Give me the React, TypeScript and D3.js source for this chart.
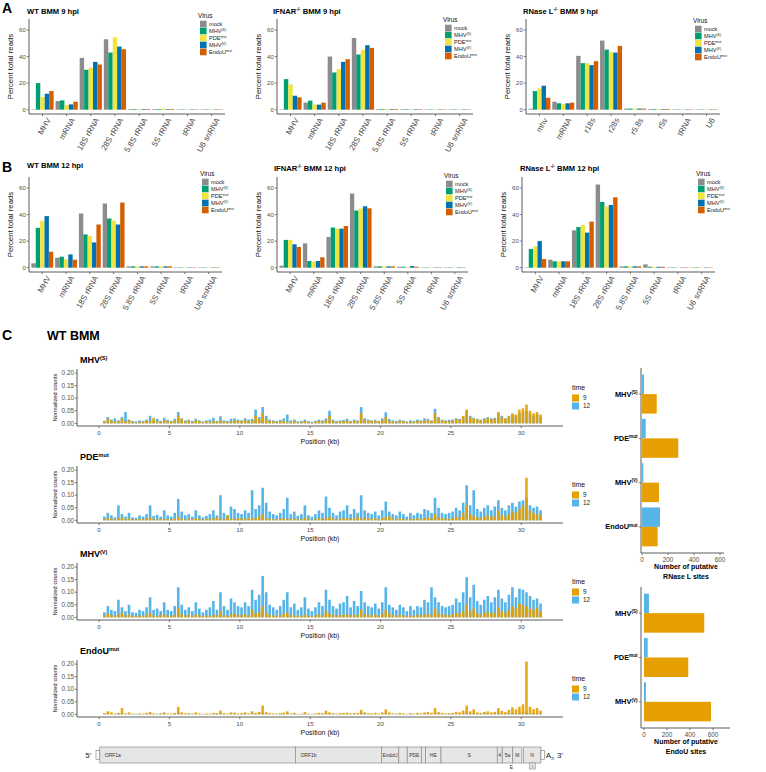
import React from 'react';
import * as d3 from 'd3';

const FONT = "'Liberation Sans', Arial, Helvetica, sans-serif";
const TICK_INK = '#4d4d4d';
const AXIS = '#333333';

// ---------------- Panels A & B : percent of total reads ----------------
const virusLabels: [string, string][] = [['mock', ''], ['MHV', '(S)'], ['PDE', 'mut'], ['MHV', '(V)'], ['EndoU', 'mut']];
const virusColors = ['#8c8c8c', '#009E73', '#F0E442', '#0072B2', '#D55E00'];
const rnaCategories = ['MHV', 'mRNA', '18S rRNA', '28S rRNA', '5.8S rRNA', '5S rRNA', 'tRNA', 'U6 snRNA'];
const rnaCategoriesRnaseL9 = ['mhv', 'mRNA', 'r18s', 'r28s', 'r5.8s', 'r5s', 'tRNA', 'U6'];
const percentTicks = [0, 20, 40, 60];

// rows: mock, MHV(S), PDEmut, MHV(V), EndoUmut ; columns follow the categories
const wt9hpi = [
  [0.3, 6.5, 39, 53, 0.5, 0.5, 0.1, 0.1],
  [20, 7, 30, 43, 0.5, 0.5, 0.1, 0.1],
  [9.5, 3.5, 31.5, 54.5, 0.5, 1.0, 0.1, 0.1],
  [12, 4, 36, 47.5, 0.5, 0.5, 0.1, 0.1],
  [14, 6, 34, 45.5, 0.5, 0.5, 0.1, 0.1],
];
const ifnar9hpi = [
  [0.2, 5.3, 40, 54, 0.5, 0.4, 0.1, 0.1],
  [23, 6.8, 28, 41.5, 0.5, 0.4, 0.1, 0.1],
  [19, 4, 30.5, 45, 0.5, 0.4, 0.1, 0.1],
  [10.5, 3.8, 36, 48.5, 0.5, 0.4, 0.1, 0.1],
  [9.3, 5.3, 38, 46.5, 0.5, 0.4, 0.1, 0.1],
];
const rnasel9hpi = [
  [0.7, 6, 40.5, 52, 0.8, 0.5, 0.1, 0.1],
  [14, 4.8, 35, 45.2, 0.8, 0.5, 0.1, 0.1],
  [16, 4.3, 35, 43.2, 0.8, 0.5, 0.1, 0.1],
  [18, 4.8, 33.5, 43, 0.8, 0.5, 0.1, 0.1],
  [9, 5.3, 36.5, 48, 0.8, 0.5, 0.1, 0.1],
];
const wt12hpi = [
  [3.3, 7.5, 40.8, 48.3, 1, 1, 0.2, 0.2],
  [30, 8.3, 25, 37, 1, 1, 0.2, 0.2],
  [35.3, 6.3, 23.8, 35.5, 1, 1, 0.2, 0.2],
  [38.8, 10, 19, 32.5, 1, 1, 0.2, 0.2],
  [12, 6, 32.5, 49, 1, 1, 0.2, 0.2],
];
const ifnar12hpi = [
  [1.5, 18.3, 23.1, 55.8, 1, 0.7, 0.2, 0.1],
  [20.9, 5, 30.2, 43, 1, 0.7, 0.2, 0.1],
  [20.9, 4.5, 29.4, 44.5, 1, 0.7, 0.2, 0.1],
  [17.6, 5, 29.4, 46.2, 1, 1.2, 0.2, 0.1],
  [15.6, 7.8, 31.4, 44.7, 1, 0.7, 0.2, 0.1],
];
const rnasel12hpi = [
  [0.3, 6, 28.1, 62.6, 1, 2.5, 0.2, 0.1],
  [14, 4.8, 30.6, 49.5, 1, 0.7, 0.2, 0.1],
  [16, 4.8, 32.1, 46, 1, 0.7, 0.2, 0.1],
  [20, 4.8, 26.4, 47.2, 1, 0.7, 0.2, 0.1],
  [6.5, 4.8, 34.7, 53, 1, 0.7, 0.2, 0.1],
];

// ---------------- Panel C : coverage tracks (normalized counts x 1000) ----------------
const binWidthKb = 0.25;
const binStartKb = d3.range(0, 31.5, binWidthKb);
const trackTitles: [string, string][] = [['MHV', '(S)'], ['PDE', 'mut'], ['MHV', '(V)'], ['EndoU', 'mut']];
const kbTicks = [0, 5, 10, 15, 20, 25, 30];
const countTicks = [0, 50, 100, 150, 200];
const timeLevels = ['9', '12'];
const timeColors = ['#E69F00', '#56B4E9'];

const mhvS_9 = [0, 8, 20, 12, 6, 10, 18, 8, 14, 6, 5, 4, 8, 12, 10, 22, 8, 6, 14, 9, 7, 12, 30, 18, 8, 10, 6, 12, 9, 5, 8, 6, 10, 7, 12, 9, 5, 8, 14, 10, 9, 14, 8, 12, 30, 18, 40, 20, 10, 8, 6, 9, 12, 5, 8, 10, 4, 6, 9, 5, 3, 6, 10, 8, 12, 30, 10, 6, 8, 9, 12, 7, 10, 8, 40, 14, 12, 9, 10, 8, 14, 25, 10, 8, 6, 10, 9, 5, 8, 6, 10, 8, 12, 14, 9, 40, 20, 12, 10, 8, 12, 18, 14, 30, 55, 25, 20, 15, 12, 18, 22, 15, 20, 45, 25, 18, 30, 40, 35, 55, 60, 75, 50, 40, 45, 35];
const mhvS_12 = [0, 10, 25, 15, 20, 12, 25, 45, 15, 10, 8, 12, 10, 15, 30, 12, 18, 10, 22, 14, 10, 18, 45, 20, 12, 15, 10, 18, 12, 8, 12, 15, 22, 10, 28, 12, 10, 18, 20, 15, 12, 20, 15, 18, 55, 25, 65, 30, 15, 12, 10, 14, 20, 35, 12, 15, 8, 10, 15, 9, 6, 10, 15, 12, 20, 50, 15, 10, 12, 14, 18, 10, 15, 12, 65, 20, 15, 12, 14, 10, 20, 44, 18, 12, 10, 15, 12, 8, 12, 10, 15, 12, 20, 18, 12, 58, 25, 15, 12, 14, 15, 20, 18, 25, 50, 30, 22, 18, 15, 20, 25, 20, 22, 40, 30, 20, 28, 35, 30, 40, 45, 50, 38, 30, 35, 25];
const pde_9 = [0, 5, 10, 6, 4, 8, 12, 5, 8, 4, 4, 6, 5, 8, 12, 6, 4, 7, 5, 6, 5, 8, 15, 6, 4, 7, 5, 9, 6, 4, 6, 5, 8, 12, 6, 5, 20, 7, 6, 9, 8, 6, 12, 7, 10, 15, 25, 9, 6, 5, 4, 7, 9, 5, 6, 8, 4, 5, 12, 6, 3, 5, 8, 6, 9, 14, 7, 5, 6, 8, 9, 6, 8, 15, 7, 10, 9, 6, 8, 5, 10, 12, 18, 7, 5, 8, 6, 4, 7, 5, 8, 6, 10, 12, 8, 25, 14, 9, 7, 6, 10, 14, 12, 30, 60, 25, 18, 12, 10, 15, 20, 12, 18, 40, 22, 15, 25, 35, 30, 45, 60, 170, 40, 30, 25, 20];
const pde_12 = [0, 15, 30, 20, 12, 60, 25, 15, 30, 12, 10, 20, 15, 25, 60, 18, 22, 15, 40, 20, 15, 30, 85, 35, 20, 25, 15, 40, 20, 12, 18, 25, 40, 20, 100, 30, 20, 55, 45, 30, 25, 40, 30, 120, 45, 60, 130, 70, 35, 25, 20, 30, 45, 90, 25, 35, 18, 25, 60, 20, 15, 25, 40, 30, 95, 50, 30, 20, 35, 40, 60, 25, 45, 30, 100, 40, 30, 25, 35, 20, 40, 75, 35, 25, 20, 35, 25, 15, 30, 20, 30, 25, 45, 40, 30, 90, 50, 30, 25, 30, 35, 50, 40, 70, 140, 60, 120, 45, 35, 50, 60, 40, 55, 80, 50, 40, 60, 70, 55, 75, 80, 90, 60, 50, 55, 40];
const mhvV_9 = [0, 8, 15, 10, 6, 12, 20, 8, 10, 6, 5, 8, 6, 10, 18, 8, 6, 9, 12, 7, 6, 10, 35, 12, 8, 10, 6, 12, 8, 5, 7, 6, 10, 8, 25, 9, 6, 12, 14, 10, 9, 12, 8, 30, 15, 20, 45, 18, 10, 8, 6, 9, 14, 20, 8, 10, 5, 7, 10, 6, 4, 8, 12, 9, 25, 15, 10, 7, 9, 10, 12, 8, 10, 9, 30, 14, 10, 8, 11, 7, 14, 30, 15, 9, 7, 10, 8, 5, 8, 6, 10, 8, 12, 14, 10, 35, 18, 12, 10, 9, 12, 18, 15, 25, 50, 25, 35, 15, 12, 18, 22, 15, 20, 40, 25, 18, 30, 45, 35, 55, 50, 45, 35, 30, 40, 25];
const mhvV_12 = [0, 20, 45, 30, 25, 70, 40, 25, 50, 20, 18, 30, 25, 40, 80, 30, 35, 25, 60, 30, 25, 45, 120, 50, 30, 40, 25, 60, 35, 20, 30, 40, 65, 30, 100, 45, 30, 75, 60, 45, 40, 60, 45, 110, 70, 90, 165, 100, 50, 40, 30, 45, 70, 100, 40, 55, 30, 40, 80, 35, 25, 40, 60, 45, 110, 70, 45, 35, 55, 60, 85, 40, 65, 45, 105, 60, 45, 40, 55, 35, 60, 120, 50, 40, 30, 50, 40, 25, 45, 30, 45, 40, 70, 60, 120, 80, 60, 45, 40, 45, 50, 75, 60, 100, 160, 80, 130, 65, 50, 70, 85, 60, 80, 110, 75, 60, 90, 120, 80, 115, 110, 100, 85, 70, 75, 55];
const endoU_9 = [0, 5, 12, 8, 3, 6, 25, 4, 8, 3, 2, 4, 3, 6, 10, 4, 2, 5, 8, 3, 3, 6, 30, 8, 4, 5, 3, 8, 4, 2, 4, 3, 6, 5, 15, 5, 3, 8, 7, 4, 5, 8, 4, 12, 6, 10, 35, 9, 5, 4, 3, 5, 7, 12, 4, 6, 2, 3, 9, 3, 2, 4, 6, 5, 15, 8, 5, 3, 5, 6, 7, 4, 6, 5, 18, 8, 5, 4, 6, 3, 8, 20, 8, 4, 3, 6, 4, 2, 5, 3, 6, 4, 8, 10, 6, 25, 9, 6, 4, 5, 6, 10, 8, 15, 35, 12, 20, 8, 6, 10, 12, 8, 10, 25, 14, 9, 18, 28, 20, 30, 40, 210, 30, 20, 25, 15];
const endoU_12 = [0, 2, 3, 1, 2, 3, 4, 1, 2, 1, 1, 2, 1, 3, 4, 1, 2, 1, 3, 1, 1, 2, 6, 2, 1, 2, 1, 3, 1, 1, 1, 1, 3, 2, 5, 1, 1, 3, 2, 1, 2, 3, 1, 5, 2, 4, 8, 3, 1, 1, 1, 2, 3, 4, 1, 2, 1, 1, 3, 1, 1, 1, 2, 1, 5, 3, 2, 1, 2, 2, 3, 1, 2, 1, 6, 2, 1, 1, 2, 1, 2, 5, 2, 1, 1, 2, 1, 1, 2, 1, 2, 1, 3, 2, 1, 6, 3, 2, 1, 2, 2, 3, 2, 4, 8, 3, 5, 2, 2, 3, 4, 2, 3, 6, 3, 2, 4, 5, 3, 6, 8, 12, 5, 4, 5, 3];

// ---------------- Putative cleavage sites ----------------
const sitesTicks = [0, 200, 400, 600];
const rnaseLCategories: [string, string][] = [['MHV', '(S)'], ['PDE', 'mut'], ['MHV', '(V)'], ['EndoU', 'mut']];
const rnaseLSites12 = [15, 28, 10, 138];
const rnaseLSites9 = [113, 279, 130, 120];
const endoUCategories: [string, string][] = [['MHV', '(S)'], ['PDE', 'mut'], ['MHV', '(V)']];
const endoUSites12 = [43, 32, 17];
const endoUSites9 = [524, 385, 583];

// ---------------- Genome map (kb) ----------------
const genomeNames = ['ORF1a', 'ORF1b', 'EndoU', '', 'PDE', '', 'HE', 'S', '4', '5a', 'M', 'N'];
const genomeStarts = [0.05, 13.95, 20.06, 21.3, 21.9, 22.9, 23.2, 24.3, 28.3, 28.65, 29.4, 30.15];
const genomeEnds = [13.95, 20.06, 21.3, 21.9, 22.9, 23.2, 24.3, 28.3, 28.65, 29.4, 30.05, 31.4];

// ---------------- helpers ----------------
function Rich({ x, y, parts, size, weight = 'normal', anchor = 'start', fill = '#000', transform }: any) {
  const supSize = size * 0.62;
  const shift = size * 0.38;
  let raised = false;
  const spans: any[] = [];
  parts.forEach((p: [string, boolean], i: number) => {
    const [t, sup] = p;
    if (!t) return;
    let dy = 0;
    if (sup && !raised) { dy = -shift; raised = true; }
    else if (!sup && raised) { dy = shift; raised = false; }
    spans.push(
      <tspan key={i} dy={dy} fontSize={sup ? supSize : size}>{t}</tspan>
    );
  });
  return (
    <text x={x} y={y} fontFamily={FONT} fontSize={size} fontWeight={weight} textAnchor={anchor}
      fill={fill} transform={transform} style={{ whiteSpace: 'pre' }}>
      {spans}
    </text>
  );
}

function BarPanel({ x0, x1, yTop, yBot, cats, rows, title, titleX, titleY, legX, legY }: any) {
  const xb = d3.scaleBand().domain(cats).range([x0, x1]).paddingInner(0.08).paddingOuter(0.1);
  const keys = virusLabels.map((v) => v.join(''));
  const inner = d3.scaleBand().domain(keys).range([0, xb.bandwidth()]);
  const y = d3.scaleLinear().domain([-3.25, 68.25]).range([yBot, yTop]);
  const yMid = (yTop + yBot) / 2;
  return (
    <g>
      <Rich x={titleX} y={titleY} parts={title} size={7.6} weight="bold" />
      {rows.map((row: number[], i: number) =>
        row.map((v: number, j: number) => (
          <rect key={`${i}-${j}`} x={(xb(cats[j]) as number) + (inner(keys[i]) as number)}
            width={inner.bandwidth()} y={y(v)} height={Math.max(0.4, y(0) - y(v))}
            fill={virusColors[i]} />
        ))
      )}
      <line x1={x0} x2={x0} y1={yTop} y2={yBot} stroke={AXIS} strokeWidth={0.8} />
      <line x1={x0} x2={x1} y1={yBot} y2={yBot} stroke={AXIS} strokeWidth={0.8} />
      {percentTicks.map((t) => (
        <g key={t}>
          <line x1={x0 - 2.2} x2={x0} y1={y(t)} y2={y(t)} stroke={AXIS} strokeWidth={0.6} />
          <text x={x0 - 3.2} y={y(t)} dy="0.35em" fontFamily={FONT} fontSize={6} fill={TICK_INK} textAnchor="end">{t}</text>
        </g>
      ))}
      {cats.map((c: string) => {
        const cx = (xb(c) as number) + xb.bandwidth() / 2;
        const ax = cx + 4.5;
        const ay = yBot + 3.5;
        return (
          <g key={c}>
            <line x1={cx} x2={cx} y1={yBot} y2={yBot + 2.2} stroke={AXIS} strokeWidth={0.6} />
            <text x={ax} y={ay} dy="0.6em" fontFamily={FONT} fontSize={8} fill={TICK_INK} textAnchor="end"
              transform={`rotate(-60 ${ax} ${ay})`}>{c}</text>
          </g>
        );
      })}
      <text transform={`translate(${x0 - 16},${yMid}) rotate(-90)`} textAnchor="middle" fontFamily={FONT}
        fontSize={7.8} fill="#111">Percent total reads</text>
      <text x={legX - 2} y={legY - 6} fontFamily={FONT} fontSize={6.4} fill="#111">Virus</text>
      {virusLabels.map((lab, i) => (
        <g key={i}>
          <rect x={legX} y={legY + i * 7 - 3.3} width={6.6} height={6.6} fill={virusColors[i]} />
          <Rich x={legX + 9} y={legY + i * 7 + 1.9} parts={[[lab[0], false], [lab[1], true]]} size={5.6} fill="#222" />
        </g>
      ))}
    </g>
  );
}

const trackX = d3.scaleLinear().domain([-1.57, 32.97]).range([77, 563]);

function Track({ top, title, v9, v12 }: any) {
  const bottom = top + 57;
  const y = d3.scaleLinear().domain([-10.5, 216.5]).range([bottom, top]);
  const series = [v12, v9];
  const cols = [timeColors[1], timeColors[0]];
  return (
    <g>
      <Rich x={80} y={top - 6} parts={[[title[0], false], [title[1], true]]} size={9} weight="bold" />
      {series.map((vals: number[], s: number) => (
        <g key={s} opacity={s === 1 ? 0.9 : 1}>
          {vals.map((v, i) => v > 0 ? (
            <rect key={i} x={trackX(binStartKb[i] + binWidthKb / 2) - 1.3} width={2.6}
              y={y(v)} height={y(0) - y(v)} fill={cols[s]} />
          ) : null)}
        </g>
      ))}
      <line x1={77} x2={77} y1={top} y2={bottom} stroke={AXIS} strokeWidth={0.8} />
      <line x1={77} x2={563} y1={bottom} y2={bottom} stroke={AXIS} strokeWidth={0.8} />
      {countTicks.map((t) => (
        <g key={t}>
          <line x1={74.8} x2={77} y1={y(t)} y2={y(t)} stroke={AXIS} strokeWidth={0.6} />
          <text x={74} y={y(t)} dy="0.35em" textAnchor="end" fontFamily={FONT} fontSize={6.4} fill={TICK_INK}>
            {(t / 1000).toFixed(2)}
          </text>
        </g>
      ))}
      {kbTicks.map((t) => (
        <g key={t}>
          <line x1={trackX(t)} x2={trackX(t)} y1={bottom} y2={bottom + 2.2} stroke={AXIS} strokeWidth={0.6} />
          <text x={trackX(t)} y={bottom + 8.6} textAnchor="middle" fontFamily={FONT} fontSize={6.2} fill={TICK_INK}>{t}</text>
        </g>
      ))}
      <text x={320} y={bottom + 17.5} textAnchor="middle" fontFamily={FONT} fontSize={7} fill="#111">Position (kb)</text>
      <text transform={`translate(57,${(top + bottom) / 2}) rotate(-90)`} textAnchor="middle" fontFamily={FONT}
        fontSize={5.8} fill="#111">Normalized counts</text>
      <text x={572} y={top + 20.5} fontFamily={FONT} fontSize={7} fill="#111">time</text>
      {timeLevels.map((lv, i) => (
        <g key={lv}>
          <rect x={572} y={top + 25.5 + i * 8} width={7} height={7} fill={timeColors[i]} />
          <text x={583} y={top + 31.3 + i * 8} fontFamily={FONT} fontSize={6.4} fill="#222">{lv}</text>
        </g>
      ))}
    </g>
  );
}

function SitesChart({ yTop, yBot, xMax, xMin, xRight, cats, v12, v9, titleLine2 }: any) {
  const keys = cats.map((c: [string, string]) => c.join(''));
  const yb = d3.scaleBand().domain(keys).range([yTop, yBot]).paddingInner(0.12).paddingOuter(0.15);
  const inner = d3.scaleBand().domain(['12', '9']).range([0, yb.bandwidth()]);
  const x = d3.scaleLinear().domain([xMin, xMax]).range([641, xRight]);
  return (
    <g>
      {keys.map((k: string, i: number) => (
        <g key={k}>
          <rect x={x(0)} width={x(v12[i]) - x(0)} y={(yb(k) as number) + (inner('12') as number)}
            height={inner.bandwidth()} fill={timeColors[1]} />
          <rect x={x(0)} width={x(v9[i]) - x(0)} y={(yb(k) as number) + (inner('9') as number)}
            height={inner.bandwidth()} fill={timeColors[0]} />
          <line x1={638.8} x2={641} y1={(yb(k) as number) + yb.bandwidth() / 2} y2={(yb(k) as number) + yb.bandwidth() / 2}
            stroke={AXIS} strokeWidth={0.6} />
          <Rich x={637.5} y={(yb(k) as number) + yb.bandwidth() / 2 + 2.6}
            parts={[[cats[i][0], false], [cats[i][1], true]]} size={7.4} weight="bold" anchor="end" />
        </g>
      ))}
      <line x1={641} x2={641} y1={yTop} y2={yBot} stroke={AXIS} strokeWidth={0.8} />
      <line x1={641} x2={xRight} y1={yBot} y2={yBot} stroke={AXIS} strokeWidth={0.8} />
      {sitesTicks.map((t) => (
        <g key={t}>
          <line x1={x(t)} x2={x(t)} y1={yBot} y2={yBot + 2.2} stroke={AXIS} strokeWidth={0.6} />
          <text x={x(t)} y={yBot + 8.6} textAnchor="middle" fontFamily={FONT} fontSize={6.4} fill={TICK_INK}>{t}</text>
        </g>
      ))}
      <text x={686} y={yBot + 16} textAnchor="middle" fontFamily={FONT} fontSize={7} fontWeight="bold">Number of putative</text>
      <text x={686} y={yBot + 25.5} textAnchor="middle" fontFamily={FONT} fontSize={7} fontWeight="bold">{titleLine2}</text>
    </g>
  );
}

function GenomeMap({ top }: any) {
  const h = 16;
  const x = trackX;
  return (
    <g fontFamily={FONT}>
      <text x={x(-0.77)} y={top + h / 2 + 3} textAnchor="middle" fontSize={8} fill="#222">5'</text>
      <rect x={x(-0.22)} y={top + 3.5} width={x(0.05) - x(-0.22)} height={h - 7} fill="#fff" stroke="#777" strokeWidth={0.6} />
      {genomeNames.map((n, i) => {
        const a = x(genomeStarts[i]);
        const b = x(genomeEnds[i]);
        const wide = genomeEnds[i] - genomeStarts[i] > 5;
        return (
          <g key={i}>
            <rect x={a} y={top} width={b - a} height={h} fill="#e6e6e6" stroke="#8a8a8a" strokeWidth={0.7} />
            {n ? (
              <text x={wide ? a + 5 : (a + b) / 2} y={top + h / 2 + 1.8} textAnchor={wide ? 'start' : 'middle'}
                fontSize={5} fill="#333">{n}</text>
            ) : null}
          </g>
        );
      })}
      <rect x={x(30.6)} y={top + h} width={x(31.0) - x(30.6)} height={6} fill="#e6e6e6" stroke="#8a8a8a" strokeWidth={0.6} />
      <text x={(x(30.6) + x(31.0)) / 2} y={top + h + 4.8} textAnchor="middle" fontSize={4.2} fill="#333">I</text>
      <text x={x(29.3)} y={top + h + 5.5} textAnchor="middle" fontSize={5} fill="#333">E</text>
      <rect x={x(31.4)} y={top + 3.5} width={x(31.65) - x(31.4)} height={h - 7} fill="#fff" stroke="#777" strokeWidth={0.6} />
      <text x={x(31.75)} y={top + h / 2 + 3} fontSize={8} fill="#222">A</text>
      <text x={x(31.75) + 5.6} y={top + h / 2 + 5} fontSize={4.5} fill="#222">n</text>
      <text x={x(32.55)} y={top + h / 2 + 3} fontSize={8} fill="#222">3'</text>
    </g>
  );
}

const TRACK_STEP = 97;

export default function App() {
  const trackSeries = [
    [mhvS_9, mhvS_12],
    [pde_9, pde_12],
    [mhvV_9, mhvV_12],
    [endoU_9, endoU_12],
  ];
  return (
    <svg width={766} height={772} viewBox="0 0 766 772"
      style={{ position: 'absolute', left: 0, top: 0, background: '#fff' }}>
      <rect x={0} y={0} width={766} height={772} fill="#fff" />
      <text x={2} y={13} fontFamily={FONT} fontSize={14} fontWeight="bold">A</text>
      <text x={2} y={172} fontFamily={FONT} fontSize={14} fontWeight="bold">B</text>
      <text x={2} y={340} fontFamily={FONT} fontSize={14} fontWeight="bold">C</text>

      <BarPanel x0={29} x1={225} yTop={19} yBot={114} cats={rnaCategories} rows={wt9hpi}
        title={[['WT BMM 9 hpi', false]]} titleX={27} titleY={14} legX={200} legY={24} />
      <BarPanel x0={277} x1={473} yTop={19} yBot={114} cats={rnaCategories} rows={ifnar9hpi}
        title={[['IFNAR', false], ['-/-', true], [' BMM 9 hpi', false]]} titleX={273} titleY={14} legX={445} legY={28} />
      <BarPanel x0={526} x1={720} yTop={19} yBot={114} cats={rnaCategoriesRnaseL9} rows={rnasel9hpi}
        title={[['RNase L', false], ['-/-', true], [' BMM 9 hpi', false]]} titleX={523} titleY={14} legX={695} legY={29} />

      <BarPanel x0={29} x1={222} yTop={177} yBot={272} cats={rnaCategories} rows={wt12hpi}
        title={[['WT BMM 12 hpi', false]]} titleX={27} titleY={168} legX={202} legY={182} />
      <BarPanel x0={277} x1={468} yTop={177} yBot={272} cats={rnaCategories} rows={ifnar12hpi}
        title={[['IFNAR', false], ['-/-', true], [' BMM 12 hpi', false]]} titleX={274} titleY={171} legX={446} legY={184} />
      <BarPanel x0={522} x1={715} yTop={177} yBot={272} cats={rnaCategories} rows={rnasel12hpi}
        title={[['RNase L', false], ['-/-', true], [' BMM 12 hpi', false]]} titleX={520} titleY={171} legX={698} legY={182} />

      <text x={47} y={340} fontFamily={FONT} fontSize={12.5} fontWeight="bold">WT BMM</text>
      {trackTitles.map((t, k) => (
        <Track key={k} top={369 + k * TRACK_STEP} title={t} v9={trackSeries[k][0]} v12={trackSeries[k][1]} />
      ))}

      <SitesChart yTop={368} yBot={553} xMin={-8} xMax={631} xRight={724} cats={rnaseLCategories}
        v12={rnaseLSites12} v9={rnaseLSites9} titleLine2="RNase L sites" />
      <SitesChart yTop={587} yBot={728} xMin={-26} xMax={748} xRight={730} cats={endoUCategories}
        v12={endoUSites12} v9={endoUSites9} titleLine2="EndoU sites" />

      <GenomeMap top={747} />
    </svg>
  );
}
